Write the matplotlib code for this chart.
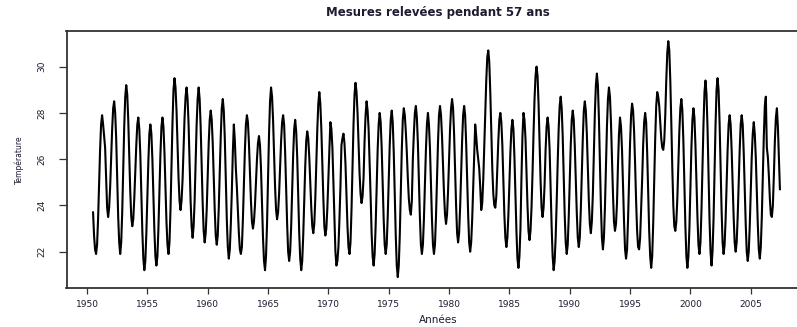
import numpy as np
import matplotlib
matplotlib.use('Agg')
import matplotlib.pyplot as plt

# Monthly temperatures, July 1950 -> June 2007
t1950s = [23.7, 22.7, 22.1, 21.9, 22.3, 23.4,
          24.9, 26.4, 27.5, 27.9, 27.5, 27.0, 26.5, 25.2, 23.9, 23.5, 23.9, 24.8,
          26.0, 27.3, 28.2, 28.5, 28.0, 26.9, 25.2, 23.5, 22.4, 21.9, 22.4, 23.7,
          25.6, 27.4, 28.7, 29.2, 28.8, 27.7, 26.2, 24.6, 23.5, 23.1, 23.4, 24.3,
          25.5, 26.6, 27.5, 27.8, 27.3, 26.2, 24.5, 22.9, 21.7, 21.2, 21.6, 22.8,
          24.4, 25.9, 27.1, 27.5, 27.1, 26.0, 24.5, 22.9, 21.8, 21.4, 21.8, 23.0,
          24.6, 26.2, 27.4, 27.8, 27.4, 26.3, 24.8, 23.3, 22.3, 21.9, 22.4, 23.8,
          25.7, 27.6, 29.0, 29.5, 29.1, 28.1, 26.7, 25.2, 24.2, 23.8, 24.2, 25.1,
          26.5, 27.8, 28.7, 29.1, 28.6, 27.5, 25.9, 24.2, 23.1, 22.6, 23.1, 24.2,
          25.9, 27.5, 28.6, 29.1, 28.6, 27.4, 25.8, 24.1, 22.9, 22.4, 22.8, 23.8]
t1960s = [25.3, 26.7, 27.7, 28.1, 27.7, 26.7, 25.2, 23.8, 22.7, 22.3, 22.7, 23.9,
          25.5, 27.0, 28.2, 28.6, 28.1, 26.9, 25.2, 23.4, 22.2, 21.7, 22.1, 23.2,
          24.6, 26.3, 27.5, 26.8, 25.6, 24.8, 23.8, 22.8, 22.1, 21.9, 22.2, 23.4,
          24.9, 26.4, 27.5, 27.9, 27.6, 26.7, 25.5, 24.2, 23.3, 23.0, 23.3, 24.0,
          25.0, 26.0, 26.7, 27.0, 26.6, 25.6, 24.1, 22.6, 21.6, 21.2, 21.8, 23.2,
          25.2, 27.1, 28.5, 29.1, 28.7, 27.7, 26.3, 24.8, 23.8, 23.4, 23.7, 24.5,
          25.7, 26.8, 27.6, 27.9, 27.5, 26.3, 24.8, 23.2, 22.0, 21.6, 22.0, 23.1,
          24.7, 26.2, 27.3, 27.7, 27.2, 26.1, 24.5, 22.8, 21.7, 21.2, 21.6, 22.7,
          24.2, 25.7, 26.8, 27.2, 26.9, 26.1, 25.0, 23.9, 23.1, 22.8, 23.2, 24.3,
          25.8, 27.3, 28.4, 28.9, 28.4, 27.3, 25.8, 24.3, 23.1, 22.7, 23.0, 23.9]
t1970s = [25.2, 26.4, 27.6, 27.3, 26.5, 25.0, 23.4, 22.0, 21.4, 21.6, 22.2, 23.4,
          24.8, 26.6, 26.9, 27.1, 26.7, 25.8, 24.5, 23.1, 22.2, 21.9, 22.4, 23.8,
          25.6, 27.5, 28.8, 29.3, 28.9, 28.0, 26.7, 25.4, 24.5, 24.1, 24.4, 25.2,
          26.8, 27.9, 28.5, 28.1, 27.3, 25.9, 24.4, 22.8, 21.8, 21.4, 21.9, 23.1,
          24.7, 26.4, 27.5, 28.0, 27.6, 26.5, 25.0, 23.4, 22.3, 21.9, 22.3, 23.5,
          25.0, 26.6, 27.7, 28.1, 27.6, 26.3, 24.5, 22.7, 21.4, 20.9, 21.4, 22.7,
          24.5, 26.4, 27.7, 28.2, 27.9, 27.2, 26.3, 25.2, 24.3, 23.8, 23.6, 24.2,
          26.0, 27.1, 28.0, 28.3, 27.8, 26.7, 25.1, 23.5, 22.3, 21.9, 22.3, 23.4,
          24.9, 26.4, 27.5, 28.0, 27.5, 26.5, 24.9, 23.4, 22.3, 21.9, 22.3, 23.5,
          25.1, 26.7, 27.9, 28.3, 27.9, 27.0, 25.8, 24.5, 23.6, 23.2, 23.6, 24.6]
t1980s = [25.9, 27.3, 28.2, 28.6, 28.2, 27.1, 25.5, 24.0, 22.8, 22.4, 22.8, 23.9,
          25.4, 26.8, 27.9, 28.3, 27.9, 26.7, 25.2, 23.6, 22.4, 22.0, 22.4, 23.4,
          24.8, 26.3, 27.5, 27.0, 26.4, 26.0, 25.6, 24.8, 23.8, 24.1, 25.1, 26.5,
          28.0, 29.4, 30.4, 30.7, 30.2, 28.9, 27.2, 25.6, 24.5, 24.0, 23.9, 24.4,
          25.6, 26.8, 27.7, 28.0, 27.6, 26.6, 25.1, 23.6, 22.6, 22.2, 22.6, 23.6,
          25.0, 26.3, 27.3, 27.7, 27.3, 26.1, 24.5, 22.9, 21.7, 21.3, 21.8, 23.0,
          25.2, 27.0, 28.0, 27.7, 26.9, 25.5, 24.0, 22.9, 22.5, 22.9, 23.9, 25.4,
          27.1, 28.6, 29.6, 30.0, 29.6, 28.4, 26.8, 25.1, 23.9, 23.5, 23.9, 24.9,
          26.4, 27.4, 27.8, 27.4, 26.4, 24.8, 23.1, 21.8, 21.2, 21.6, 22.6, 24.1,
          25.8, 27.3, 28.3, 28.7, 28.2, 27.0, 25.3, 23.6, 22.4, 21.9, 22.3, 23.5]
t1990s = [25.0, 26.6, 27.7, 28.1, 27.7, 26.6, 25.2, 23.7, 22.6, 22.2, 22.6, 23.8,
          25.4, 26.9, 28.1, 28.5, 28.1, 27.1, 25.7, 24.2, 23.2, 22.8, 23.3, 24.5,
          26.3, 28.0, 29.2, 29.7, 29.2, 27.8, 25.9, 24.0, 22.6, 22.1, 22.6, 23.9,
          25.6, 27.4, 28.6, 29.1, 28.7, 27.6, 26.0, 24.5, 23.3, 22.9, 23.2, 24.1,
          25.8, 27.1, 27.8, 27.4, 26.4, 24.9, 23.3, 22.1, 21.7, 22.1, 23.4, 25.0,
          26.7, 27.9, 28.4, 28.1, 27.2, 25.8, 24.2, 22.9, 22.2, 22.1, 22.6, 23.8,
          25.1, 26.6, 27.6, 28.0, 27.6, 26.3, 24.6, 22.9, 21.8, 21.3, 21.8, 23.2,
          25.1, 26.9, 28.3, 28.9, 28.7, 28.3, 27.6, 26.9, 26.5, 26.4, 26.8, 27.9,
          29.4, 30.6, 31.1, 30.7, 29.4, 27.6, 25.6, 24.0, 23.1, 22.9, 23.3, 24.3,
          25.8, 27.2, 28.2, 28.6, 28.1, 26.8, 24.9, 23.1, 21.8, 21.3, 21.8, 23.0]
t2000s = [24.8, 26.5, 27.7, 28.2, 27.8, 26.6, 25.0, 23.5, 22.3, 21.9, 22.4, 23.8,
          25.7, 27.5, 28.9, 29.4, 28.8, 27.4, 25.4, 23.4, 22.0, 21.4, 22.0, 23.4,
          25.5, 27.5, 29.0, 29.5, 29.0, 27.6, 25.7, 23.8, 22.4, 21.9, 22.3, 23.4,
          24.9, 26.4, 27.5, 27.9, 27.5, 26.4, 25.0, 23.5, 22.4, 22.0, 22.4, 23.5,
          25.0, 26.4, 27.5, 27.9, 27.5, 26.3, 24.8, 23.2, 22.0, 21.6, 22.0, 23.1,
          24.6, 26.1, 27.1, 27.6, 27.1, 26.1, 24.6, 23.2, 22.1, 21.7, 22.2, 23.5,
          25.2, 27.0, 28.3, 28.7, 26.5, 26.1, 25.3, 24.3, 23.6, 23.5, 24.0, 25.3,
          26.8, 27.8, 28.2, 27.4, 26.0, 24.7]

temp = np.array(t1950s + t1960s + t1970s + t1980s + t1990s + t2000s)
# time axis: first value is July 1950, one value per month
annees = 1950 + 6 / 12 + np.arange(len(temp)) / 12

xticks = list(range(1950, 2010, 5))
yticks = [22, 24, 26, 28, 30]

fig = plt.figure(figsize=(7.97, 3.27), dpi=100)
# the frame runs past the right edge of the picture, like in the original
ax = fig.add_axes([66.5 / 797, 39 / 327, 743.5 / 797, 257 / 327])

ax.plot(annees, temp, color='black', lw=1.5)

ax.set_xlim(1948.30, 2009.91)
ax.set_ylim(20.43, 31.54)

txt_col = '#1c1c30'
ax.set_xticks(xticks)
ax.set_xticklabels([str(x) for x in xticks], fontsize=6.5, color=txt_col)
ax.set_yticks(yticks)
ax.set_yticklabels([str(y) for y in yticks], fontsize=6.5, color=txt_col,
                   rotation=90, va='center')
ax.tick_params(axis='x', length=4.3, width=0.9, pad=4.0, color='#333333')
ax.tick_params(axis='y', length=5.5, width=0.9, pad=9, color='#333333')

for sp in ax.spines.values():
    sp.set_linewidth(1.3)
    sp.set_color('#333333')

ax.set_title('Mesures relevées pendant 57 ans', fontsize=8.5,
             fontweight='bold', color=txt_col, pad=11)
ax.set_xlabel('Années', fontsize=7.5, color=txt_col, labelpad=5)
ax.set_ylabel('Température', fontsize=5.5, color=txt_col, labelpad=10)

fig.savefig('out.png', dpi=100)
